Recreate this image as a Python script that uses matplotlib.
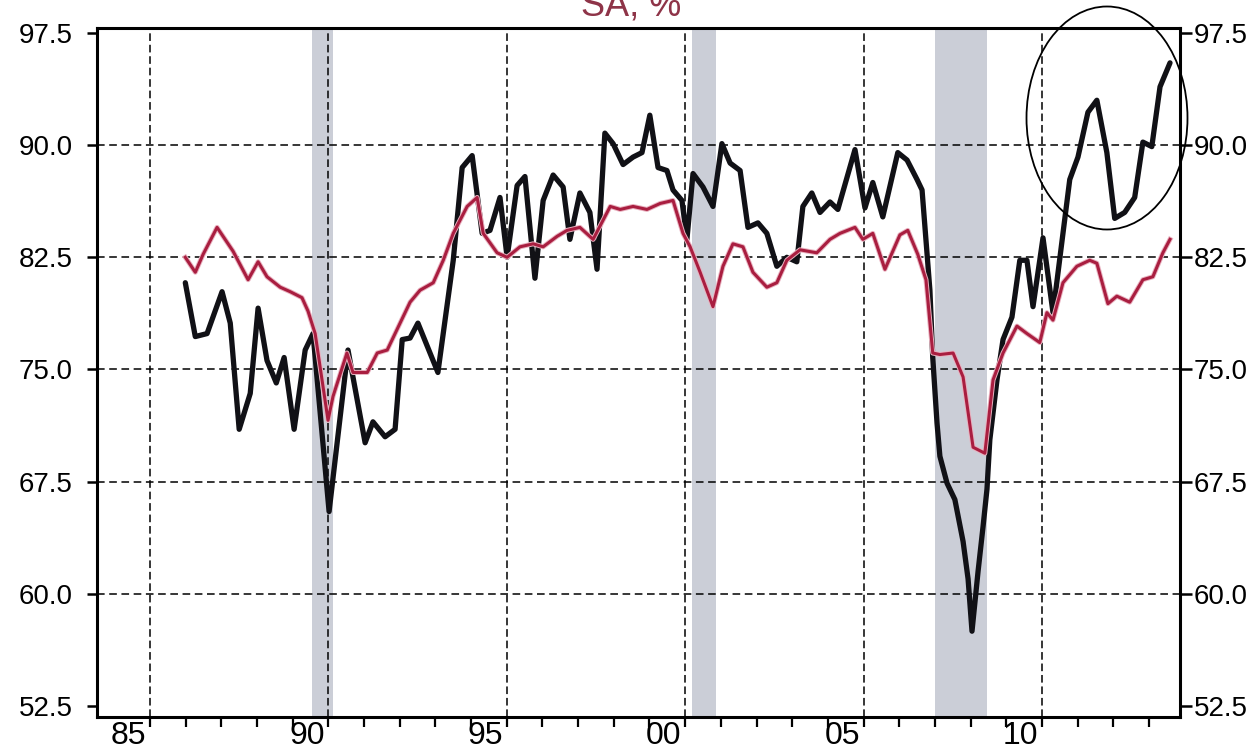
import matplotlib
matplotlib.use("Agg")
import matplotlib.pyplot as plt
from matplotlib.patches import Ellipse
from matplotlib import font_manager
import matplotlib.patheffects as pe

# ---------------- data ----------------
black_years = [1986.99, 1987.27, 1987.60, 1988.02, 1988.25, 1988.50, 1988.81, 1989.03, 1989.28, 1989.54,
               1989.76, 1990.04, 1990.35, 1990.57, 1991.02, 1991.55, 1992.03, 1992.25, 1992.59, 1992.87,
               1993.07, 1993.29, 1993.51, 1994.07, 1994.50, 1994.75, 1995.03, 1995.31, 1995.53, 1995.81,
               1996.01, 1996.29, 1996.51, 1996.79, 1997.02, 1997.30, 1997.58, 1997.77, 1998.05, 1998.33,
               1998.53, 1998.75, 1998.98, 1999.26, 1999.54, 1999.79, 2000.01, 2000.24, 2000.49, 2000.66,
               2000.91, 2001.05, 2001.22, 2001.50, 2001.78, 2002.03, 2002.26, 2002.54, 2002.76, 2003.04,
               2003.29, 2003.57, 2003.85, 2004.13, 2004.30, 2004.55, 2004.78, 2005.06, 2005.28, 2005.76,
               2006.04, 2006.26, 2006.54, 2006.96, 2007.22, 2007.50, 2007.64, 2007.86, 2007.94, 2008.06,
               2008.14, 2008.34, 2008.56, 2008.79, 2008.93, 2009.04, 2009.21, 2009.35, 2009.46, 2009.54,
               2009.74, 2009.91, 2010.16, 2010.38, 2010.58, 2010.75, 2011.03, 2011.31, 2011.78, 2012.01,
               2012.29, 2012.54, 2012.82, 2013.04, 2013.32, 2013.60, 2013.83, 2014.08, 2014.31, 2014.59]
black_vals = [80.8, 77.2, 77.4, 80.2, 78.1, 71.0, 73.4, 79.1, 75.6, 74.1,
              75.8, 71.0, 76.3, 77.4, 65.5, 76.3, 70.1, 71.5, 70.5, 71.0,
              77.0, 77.1, 78.1, 74.8, 82.3, 88.5, 89.3, 84.1, 84.3, 86.5,
              82.5, 87.3, 87.9, 81.1, 86.3, 88.0, 87.2, 83.7, 86.8, 85.5,
              81.7, 90.8, 90.1, 88.7, 89.2, 89.5, 92.0, 88.5, 88.3, 87.0,
              86.3, 83.7, 88.1, 87.2, 85.9, 90.1, 88.8, 88.3, 84.5, 84.8,
              84.1, 81.9, 82.5, 82.2, 85.9, 86.8, 85.5, 86.2, 85.7, 89.7,
              85.8, 87.5, 85.2, 89.5, 89.0, 87.7, 87.0, 80.3, 75.8, 71.4,
              69.2, 67.4, 66.3, 63.5, 61.0, 57.5, 61.5, 64.5, 67.0, 70.3,
              74.3, 77.0, 78.5, 82.3, 82.3, 79.2, 83.8, 78.8, 87.7, 89.2,
              92.2, 93.0, 89.5, 85.1, 85.5, 86.5, 90.2, 89.9, 93.9, 95.5]

red_years = [1986.99, 1987.27, 1987.49, 1987.88, 1988.33, 1988.75, 1989.03, 1989.28, 1989.65, 1989.93,
             1990.26, 1990.43, 1990.63, 1990.99, 1991.13, 1991.52, 1991.69, 1992.09, 1992.37, 1992.65,
             1993.01, 1993.29, 1993.57, 1993.94, 1994.22, 1994.50, 1994.89, 1995.17, 1995.34, 1995.73,
             1996.01, 1996.37, 1996.74, 1997.02, 1997.41, 1997.69, 1998.05, 1998.42, 1998.90, 1999.18,
             1999.54, 1999.93, 2000.30, 2000.66, 2000.94, 2001.14, 2001.42, 2001.78, 2002.06, 2002.34,
             2002.62, 2002.90, 2003.29, 2003.57, 2003.85, 2004.22, 2004.69, 2005.06, 2005.34, 2005.76,
             2005.98, 2006.26, 2006.60, 2007.02, 2007.24, 2007.52, 2007.75, 2007.94, 2008.14, 2008.51,
             2008.79, 2009.07, 2009.40, 2009.63, 2009.91, 2010.30, 2010.58, 2010.94, 2011.14, 2011.31,
             2011.59, 2011.98, 2012.34, 2012.54, 2012.85, 2013.10, 2013.46, 2013.83, 2014.11, 2014.39,
             2014.59]
red_vals = [82.5, 81.5, 82.7, 84.5, 82.9, 81.0, 82.2, 81.2, 80.5, 80.2,
            79.8, 78.9, 77.4, 71.6, 73.2, 76.1, 74.8, 74.8, 76.1, 76.3,
            78.1, 79.5, 80.3, 80.8, 82.3, 84.1, 85.9, 86.5, 84.1, 82.8,
            82.5, 83.2, 83.4, 83.2, 83.9, 84.3, 84.5, 83.7, 85.9, 85.7,
            85.9, 85.7, 86.1, 86.3, 84.1, 83.2, 81.5, 79.2, 81.9, 83.4,
            83.2, 81.5, 80.5, 80.8, 82.3, 83.0, 82.8, 83.7, 84.1, 84.5,
            83.7, 84.1, 81.7, 84.0, 84.3, 82.7, 81.0, 76.1, 76.0, 76.1,
            74.5, 69.8, 69.4, 74.3, 76.1, 77.9, 77.4, 76.8, 78.8, 78.3,
            80.8, 81.9, 82.3, 82.1, 79.4, 79.9, 79.5, 81.0, 81.2, 82.8,
            83.7]

rec_start = [1990.54, 2001.19, 2008.00]
rec_end = [1991.13, 2001.86, 2009.46]

ytick_vals = [52.5, 60.0, 67.5, 75.0, 82.5, 90.0, 97.5]
grid_y = [60.0, 67.5, 75.0, 82.5, 90.0]
grid_x = [1986, 1991, 1996, 2001, 2006, 2011]
xlabel_text = ['85', '90', '95', '00', '05', '10']
xlabel_pos = [1985.4, 1990.4, 1995.4, 2000.4, 2005.4, 2010.4]
minor_years = list(range(1986, 2015))
title_text = "SA, %"

# ---------------- fonts ----------------
names = {f.name for f in font_manager.fontManager.ttflist}
yfont = 'Liberation Sans' if 'Liberation Sans' in names else 'DejaVu Sans'
if 'Liberation Sans Narrow' in names:
    xfont, xsize = 'Liberation Sans Narrow', 27
else:
    xfont, xsize = yfont, 23

# ---------------- figure ----------------
W, H = 1258, 754
fig = plt.figure(figsize=(W / 100, H / 100), dpi=100)
fig.patch.set_facecolor('white')
L, R, T, B = 97, 1180, 28, 717
ax = fig.add_axes([L / W, 1 - B / H, (R - L) / W, (B - T) / H])
xlim = (1984.515, 2014.87)
ylim = (51.765, 97.83)

for s, e in zip(rec_start, rec_end):
    ax.axvspan(s, e, color='#CBCED7', lw=0, zorder=0)
for y in grid_y:
    ax.axhline(y, color='k', lw=1.1, ls=(0, (5, 3)), zorder=1)
for x in grid_x:
    ax.axvline(x, color='k', lw=1.1, ls=(0, (5, 2.5)), zorder=1)

ax.plot(black_years, black_vals, color='#111116', lw=3.8,
        solid_joinstyle='round', solid_capstyle='round', zorder=3)
ax.plot(red_years, red_vals, color='#A91E40', lw=2.2,
        solid_joinstyle='round', zorder=4,
        path_effects=[pe.Stroke(linewidth=3.6, foreground='#E9B2C0'), pe.Normal()])

ax.set_xlim(*xlim)
ax.set_ylim(*ylim)

ax.set_yticks(ytick_vals)
ax.set_yticklabels([f'{v:.1f}' for v in ytick_vals])
ax.tick_params(axis='y', direction='out', length=7.5, width=1.8, pad=10,
               labelsize=20, right=False)
for lab in ax.get_yticklabels():
    lab.set_fontfamily(yfont)

ax.set_xticks(xlabel_pos)
ax.set_xticklabels(xlabel_text)
ax.set_xticks(minor_years, minor=True)
ax.tick_params(axis='x', which='major', length=0, pad=3, labelsize=xsize)
ax.tick_params(axis='x', which='minor', direction='out', length=7, width=1.6)
for lab in ax.get_xticklabels():
    lab.set_fontfamily(xfont)

for sp in ax.spines.values():
    sp.set_linewidth(2.2)
    sp.set_color('k')

ax2 = ax.twinx()
ax2.set_ylim(*ylim)
ax2.set_yticks(ytick_vals)
ax2.set_yticklabels([f'{v:.1f}' for v in ytick_vals])
ax2.tick_params(axis='y', direction='out', length=8.5, width=1.8, pad=1.5, labelsize=20)
for lab in ax2.get_yticklabels():
    lab.set_fontfamily(yfont)
for sp in ax2.spines.values():
    sp.set_visible(False)

# circle annotation (figure coordinates, extends past the frame)
ell = Ellipse((1107 / W, 1 - 118 / H), 161 / W, 223 / H, transform=fig.transFigure,
              fill=False, ec='k', lw=1.3, clip_on=False, zorder=10)
fig.add_artist(ell)

fig.text(631 / W, 1 - 15 / H, title_text, fontsize=26, ha='center', va='baseline',
         color='#8E3448', family=yfont)

fig.savefig('out.png', dpi=100, facecolor='white')
